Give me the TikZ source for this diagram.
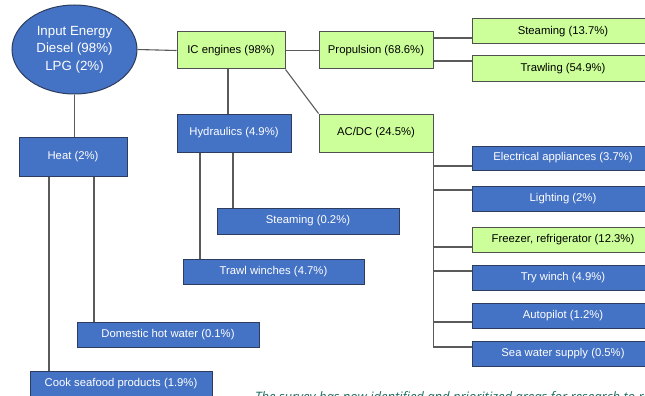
\documentclass[tikz,border=0pt]{standalone}
\usepackage{fontspec}
\setmainfont{Liberation Sans}
\newfontfamily\notefont{Open Sans}
\usetikzlibrary{shapes.geometric}
\definecolor{boxblue}{HTML}{4472C4}
\definecolor{blueedge}{HTML}{2E3D5E}
\definecolor{boxgreen}{HTML}{CCFF99}
\definecolor{greenedge}{HTML}{505050}
\definecolor{linkgray}{HTML}{5A5A5A}
\definecolor{noteteal}{HTML}{1B6B60}
\tikzset{
  base/.style={draw, line width=1pt, inner sep=0pt, font=\fontsize{11.3}{13}\selectfont},
  bluebox/.style={base, rectangle, fill=boxblue, draw=blueedge, text=white},
  greenbox/.style={base, rectangle, fill=boxgreen, draw=greenedge, text=black},
  link/.style={draw=linkgray, line width=1.1pt},
}
\begin{document}
\begin{tikzpicture}[x=1pt,y=-1pt]
\useasboundingbox (0,0) rectangle (645,396);
\clip (0,0) rectangle (645,396);
\fill[white] (0,0) rectangle (645,396);

% nodes
\node[bluebox, ellipse, minimum width=125pt, minimum height=89pt, align=center,
      font=\fontsize{13.3}{17.5}\selectfont] (inp) at (74.5,49.5) {Input Energy\\Diesel (98\%)\\LPG (2\%)};
\node[greenbox, minimum width=108pt, minimum height=37pt] (ic) at (231,50.5) {IC engines (98\%)};
\node[greenbox, minimum width=114pt, minimum height=37pt] (prop) at (376,50.5) {Propulsion (68.6\%)};
\node[greenbox, minimum width=182pt, minimum height=25pt] (st1) at (563,31.5) {Steaming (13.7\%)};
\node[greenbox, minimum width=182pt, minimum height=25pt] (trawl) at (563,68.5) {Trawling (54.9\%)};
\node[greenbox, minimum width=114pt, minimum height=38pt] (acdc) at (376,133) {AC/DC (24.5\%)};
\node[bluebox, minimum width=182pt, minimum height=24pt] (elec) at (563,158) {Electrical appliances (3.7\%)};
\node[bluebox, minimum width=182pt, minimum height=25pt] (light) at (563,198.5) {Lighting (2\%)};
\node[greenbox, minimum width=182pt, minimum height=25pt] (frz) at (563,239.5) {Freezer, refrigerator (12.3\%)};
\node[bluebox, minimum width=182pt, minimum height=25pt] (tryw) at (563,277.5) {Try winch (4.9\%)};
\node[bluebox, minimum width=182pt, minimum height=25pt] (auto) at (563,315.5) {Autopilot (1.2\%)};
\node[bluebox, minimum width=182pt, minimum height=25pt] (sea) at (563,353.5) {Sea water supply (0.5\%)};
\node[bluebox, minimum width=114pt, minimum height=38pt] (hyd) at (234,133) {Hydraulics (4.9\%)};
\node[bluebox, minimum width=108pt, minimum height=39pt] (heat) at (73,156.5) {Heat (2\%)};
\node[bluebox, minimum width=182pt, minimum height=26pt] (st2) at (308,221) {Steaming (0.2\%)};
\node[bluebox, minimum width=181pt, minimum height=25pt] (tw) at (273.5,271.5) {Trawl winches (4.7\%)};
\node[bluebox, minimum width=182pt, minimum height=25pt] (dhw) at (168,334.5) {Domestic hot water (0.1\%)};
\node[bluebox, minimum width=182pt, minimum height=26pt] (cook) at (121,384) {Cook seafood products (1.9\%)};

% connectors
\draw[link] (inp.east) -- (ic.west);
\draw[link] (ic.east) -- (prop.west);
\coordinate (p1) at ([yshift=12.5pt]prop.east);
\coordinate (p2) at ([yshift=-10.5pt]prop.east);
\draw[link] (p1) -- (p1 -| st1.west);
\draw[link] (p2) -- (p2 -| trawl.west);
\draw[link] (ic.south east) -- (acdc.north west);
\coordinate (i1) at ([xshift=-3pt]ic.south);
\draw[link] (i1) -- (i1 |- hyd.north);
\draw[link] (inp.south) -- (inp.south |- heat.north);
\coordinate (h1) at ([xshift=-24pt]heat.south);
\coordinate (h2) at ([xshift=21pt]heat.south);
\draw[link] (h1) -- (h1 |- cook.north);
\draw[link] (h2) -- (h2 |- dhw.north);
\coordinate (y1) at ([xshift=-34pt]hyd.south);
\coordinate (y2) at ([xshift=-1pt]hyd.south);
\draw[link] (y1) -- (y1 |- tw.north);
\draw[link] (y2) -- (y2 |- st2.north);
% AC/DC trunk and branches
\coordinate (b1) at ([yshift=-8pt]elec.west);
\coordinate (b2) at ([yshift=8.5pt]light.west);
\coordinate (b3) at ([yshift=-7.5pt]frz.west);
\coordinate (b4) at ([yshift=6.5pt]tryw.west);
\coordinate (b5) at ([yshift=-6.5pt]auto.west);
\coordinate (b6) at ([yshift=6.5pt]sea.west);
\draw[link] (acdc.south east) -- (b6 -| acdc.east) -- (b6);
\foreach \b in {b1,b2,b3,b4,b5}{\draw[link] (\b -| acdc.east) -- (\b);}

% cut-off caption line below the figure
\node[anchor=base west, inner sep=0pt, text=noteteal, font=\notefont\itshape\fontsize{13}{15}\selectfont] (note) at (255,401)
  {The survey has now identified and prioritized areas for research to reduce energy};
\end{tikzpicture}
\end{document}
